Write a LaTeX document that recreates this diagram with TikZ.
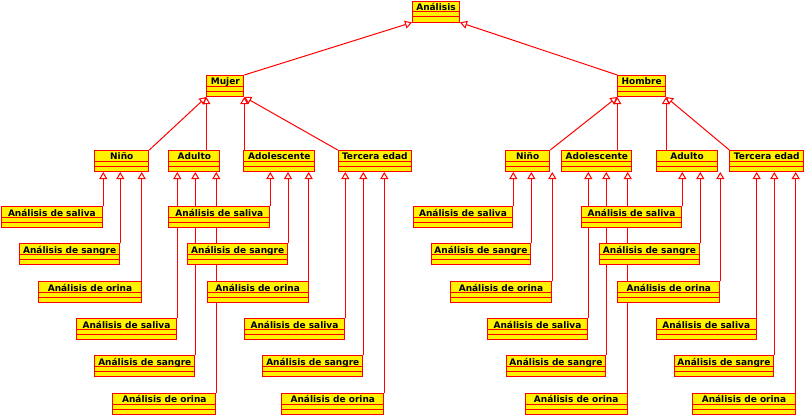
\documentclass[tikz,border=0pt]{standalone}
\usepackage{fontspec}
\setmainfont{DejaVu Sans}
\usetikzlibrary{arrows.meta}
\pgfdeclarelayer{bg}
\pgfsetlayers{bg,main}
\tikzset{
  cls/.style={draw=red, fill=yellow, line width=1pt, anchor=north west,
    inner xsep=0pt, inner ysep=0pt, text height=9.4pt, text depth=11.6pt,
    minimum width=#1, font=\fontsize{9}{10}\selectfont\bfseries, text=black,
    path picture={\draw[red, line width=1pt]
      ([yshift=-10.5pt]path picture bounding box.north west) -- ([yshift=-10.5pt]path picture bounding box.north east)
      ([yshift=-15.75pt]path picture bounding box.north west) -- ([yshift=-15.75pt]path picture bounding box.north east);}},
  inh/.style={draw=red, line width=1pt, -{Triangle[open, width=8pt, length=7pt]}}
}
\newcommand\cbox[5]{\node[cls={#4pt-#2pt}] (#1) at (#2,#3) {#5};}
\begin{document}
\begin{tikzpicture}[x=1pt, y=-1pt]
\useasboundingbox (0,0) rectangle (806,415);
% top levels
\cbox{an}{412}{0.5}{459}{Análisis}
\cbox{m}{206.3}{75}{243.3}{Mujer}
\cbox{h}{617.3}{75}{665}{Hombre}
% level 2 left
\cbox{nL}{94.3}{150}{148.3}{Niño}
\cbox{aL}{168.3}{150}{219.3}{Adulto}
\cbox{oL}{243.3}{150}{314.3}{Adolescente}
\cbox{tL}{337.7}{150}{411}{Tercera edad}
% level 2 right
\cbox{nR}{505}{150}{549.3}{Niño}
\cbox{oR}{561.3}{150}{631.3}{Adolescente}
\cbox{aR}{655.7}{150}{717.3}{Adulto}
\cbox{tR}{729.3}{150}{803.3}{Tercera edad}
% level 3 left
\cbox{n1}{0.5}{206.3}{102.3}{Análisis de saliva}
\cbox{n2}{19}{243.3}{119.3}{Análisis de sangre}
\cbox{n3}{38.3}{281.3}{140.7}{Análisis de orina}
\cbox{o1}{168.3}{206.3}{269.3}{Análisis de saliva}
\cbox{o2}{187.3}{243.3}{287}{Análisis de sangre}
\cbox{o3}{206.7}{281.3}{307.7}{Análisis de orina}
\cbox{a1}{75.7}{318.3}{176.3}{Análisis de saliva}
\cbox{a2}{94.3}{355.3}{194.3}{Análisis de sangre}
\cbox{a3}{112.3}{393}{215.3}{Análisis de orina}
\cbox{t1}{243.7}{318.3}{344.3}{Análisis de saliva}
\cbox{t2}{262.3}{355.3}{362.3}{Análisis de sangre}
\cbox{t3}{281.3}{393}{383.3}{Análisis de orina}
% level 3 right
\cbox{N1}{412.7}{206.3}{512.3}{Análisis de saliva}
\cbox{N2}{430.7}{243.3}{530.3}{Análisis de sangre}
\cbox{N3}{449.7}{281.3}{551.3}{Análisis de orina}
\cbox{A1}{580.7}{206.3}{681.3}{Análisis de saliva}
\cbox{A2}{598.7}{243.3}{699.3}{Análisis de sangre}
\cbox{A3}{617.3}{281.3}{719.3}{Análisis de orina}
\cbox{O1}{486.7}{318.3}{587.3}{Análisis de saliva}
\cbox{O2}{505.7}{355.3}{605.3}{Análisis de sangre}
\cbox{O3}{524.7}{393}{626.7}{Análisis de orina}
\cbox{T1}{655.7}{318.3}{755.7}{Análisis de saliva}
\cbox{T2}{673.7}{355.3}{773.3}{Análisis de sangre}
\cbox{T3}{692.3}{393}{794.7}{Análisis de orina}
\begin{pgfonlayer}{bg}
% to Análisis
\draw[inh] (m.north east) -- (an.south west);
\draw[inh] (h.north west) -- (an.south east);
% to Mujer
\draw[inh] (nL.north east) -- (m.south west);
\draw[inh] (m.south west |- aL.north) -- (m.south west);
\draw[inh] (m.south east |- oL.north) -- (m.south east);
\draw[inh] (tL.north west) -- (m.south east);
% to Hombre
\draw[inh] (nR.north east) -- (h.south west);
\draw[inh] (h.south west |- oR.north) -- (h.south west);
\draw[inh] (h.south east |- aR.north) -- (h.south east);
\draw[inh] (tR.north west) -- (h.south east);
% vertical inheritance of analyses
\foreach \c/\p in {n1/nL, n2/nL, n3/nL, o1/oL, o2/oL, o3/oL, a1/aL, a2/aL, a3/aL, t1/tL, t2/tL, t3/tL,
                   N1/nR, N2/nR, N3/nR, A1/aR, A2/aR, A3/aR, O1/oR, O2/oR, O3/oR, T1/tR, T2/tR, T3/tR}
  \draw[inh] (\c.north east) -- (\c.north east |- \p.south);
\end{pgfonlayer}
\end{tikzpicture}
\end{document}
